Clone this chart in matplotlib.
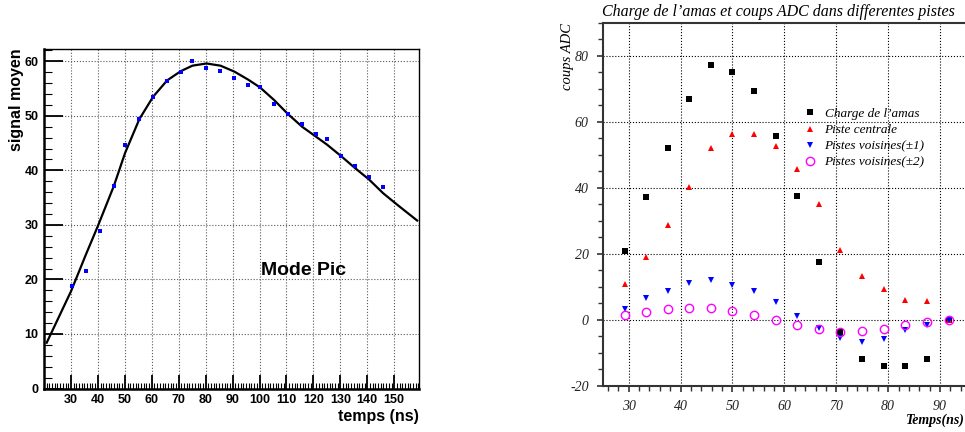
import numpy as np
import matplotlib
matplotlib.use("Agg")
import matplotlib.pyplot as plt
from matplotlib.ticker import MultipleLocator

plt.rcParams["axes.unicode_minus"] = False

# Left panel: mean signal vs time (peak mode)
temps_pts = [30.3, 35.5, 40.6, 45.9, 50.1, 55.4, 60.5, 65.7, 70.8, 75.1, 80.3, 85.5,
             90.7, 95.9, 100.2, 105.4, 110.4, 115.8, 120.9, 125.1, 130.3, 135.5, 140.7, 145.9]
signal_pts = [18.8, 21.6, 28.9, 37.1, 44.7, 49.4, 53.5, 56.4, 58.1, 60.0, 58.7, 58.3,
              56.9, 55.7, 55.2, 52.1, 50.4, 48.5, 46.6, 45.8, 42.6, 40.8, 38.8, 36.9]

# fit curve
fit_t = [21.0, 30.0, 35.5, 40.0, 45.9, 50.1, 55.4, 60.5, 65.7, 70.8, 75.1, 80.3, 85.5,
         90.7, 95.9, 100.2, 105.4, 110.4, 115.8, 120.9, 125.1, 130.3, 135.5, 140.7,
         145.9, 151.1, 158.5]
fit_s = [8.4, 17.8, 24.5, 29.8, 37.1, 43.2, 49.4, 53.5, 56.5, 58.2, 59.2, 59.6, 59.2,
         58.1, 56.6, 55.2, 52.9, 50.4, 48.0, 46.2, 44.7, 42.6, 40.4, 38.3,
         35.8, 33.7, 30.8]

# Right panel: cluster charge and ADC counts in strips
temps_adc = [29.2, 33.3, 37.5, 41.7, 45.8, 50.0, 54.2, 58.3, 62.5, 66.7, 70.8, 75.0,
             79.2, 83.3, 87.5, 91.7]
charge_amas = [20.8, 37.2, 52.0, 67.0, 77.2, 75.1, 69.2, 55.6, 37.5, 17.5, -3.7, -11.8,
               -14.0, -14.0, -11.8, 0.0]
piste_centrale = [10.8, 19.2, 28.7, 40.3, 52.0, 56.2, 56.4, 52.7, 45.7, 35.0, 21.1, 13.2,
                  9.3, 6.0, 5.7, 0.0]
voisines_1 = [3.3, 6.5, 8.8, 11.2, 12.1, 10.6, 8.8, 5.4, 1.2, -2.3, -5.6, -6.6,
              -5.8, -3.1, -1.4, 0.0]
voisines_2 = [1.4, 2.4, 3.2, 3.7, 3.6, 2.6, 1.6, 0.0, -1.6, -2.7, -3.5, -3.3,
              -2.6, -1.4, -0.7, 0.0]

fig = plt.figure(figsize=(9.65, 4.32), dpi=100)

# ---------------- left panel ----------------
sans = "Liberation Sans"
ax1 = fig.add_axes([44 / 965, 1 - 388.5 / 432, (419.3 - 44) / 965, (388.5 - 49.3) / 432])
ax1.plot(fit_t, fit_s, color="black", lw=1.6, zorder=3)
ax1.plot(temps_pts, signal_pts, "s", color="#0000ff", ms=2.4, mew=0, zorder=4)
ax1.set_xlim(20, 159.3)
ax1.set_ylim(0, 62.2)
ax1.xaxis.set_major_locator(MultipleLocator(10))
ax1.xaxis.set_minor_locator(MultipleLocator(1))
ax1.yaxis.set_major_locator(MultipleLocator(10))
ax1.yaxis.set_minor_locator(MultipleLocator(2))
ax1.tick_params(axis="x", which="major", direction="in", length=10, width=1.3, pad=4)
ax1.tick_params(axis="x", which="minor", direction="in", length=4, width=0.8)
ax1.tick_params(axis="y", which="major", direction="in", length=14, width=1.3, pad=4)
ax1.tick_params(axis="y", which="minor", direction="in", length=6, width=0.8)
ax1.set_xticks(np.arange(30, 151, 10))
for lab in ax1.get_xticklabels() + ax1.get_yticklabels():
    lab.set_fontfamily(sans)
    lab.set_fontweight("bold")
    lab.set_fontsize(9)
ax1.grid(True, which="major", color="0.35", ls=":", lw=0.8)
ax1.spines["left"].set_linewidth(1.8)
ax1.spines["bottom"].set_linewidth(1.8)
ax1.spines["top"].set_linewidth(1.0)
ax1.spines["right"].set_linewidth(1.0)
ax1.text(100.7, 21.7, "Mode Pic", fontfamily=sans, fontweight="bold", fontsize=14,
         va="center", ha="left")
fig.text(16.5 / 965, 1 - 48 / 432, "signal moyen", rotation=90, ha="center", va="top",
         fontfamily=sans, fontweight="bold", fontsize=11.5)
fig.text(419 / 965, 1 - 417 / 432, "temps (ns)", ha="right", va="center",
         fontfamily=sans, fontweight="bold", fontsize=11.5)

# ---------------- right panel ----------------
serif = "Liberation Serif"
ax2 = fig.add_axes([602.7 / 965, 1 - 386 / 432, (965 - 602.7) / 965, (386 - 22.7) / 432])
ax2.plot(temps_adc, charge_amas, "s", color="black", ms=5.0, mew=0, label="Charge de l\u2019amas")
ax2.plot(temps_adc, piste_centrale, "^", color="#ff0000", ms=5.0, mew=0, label="Piste centrale")
ax2.plot(temps_adc, voisines_1, "v", color="#0000ff", ms=5.0, mew=0, label="Pistes voisines(\u00b11)")
ax2.plot(temps_adc, voisines_2, "o", mfc="none", mec="#ff00ff", ms=6, mew=1.0,
         label="Pistes voisines(\u00b12)")
ax2.set_xlim(25, 94.8)
ax2.set_ylim(-20, 90)
ax2.xaxis.set_major_locator(MultipleLocator(10))
ax2.xaxis.set_minor_locator(MultipleLocator(2))
ax2.yaxis.set_major_locator(MultipleLocator(20))
ax2.yaxis.set_minor_locator(MultipleLocator(5))
ax2.set_xticks(np.arange(30, 91, 10))
ax2.tick_params(which="major", direction="out", length=4, width=1.2, color="#333333")
ax2.tick_params(which="minor", direction="out", length=3.5, width=1.0, color="#333333")
ax2.tick_params(axis="x", which="major", pad=6)
ax2.tick_params(axis="y", which="major", pad=6)
for lab in ax2.get_xticklabels() + ax2.get_yticklabels():
    lab.set_fontfamily(serif)
    lab.set_fontstyle("italic")
    lab.set_fontsize(10)
    lab.set_color("#222222")
ax2.grid(True, which="major", color="black", ls=":", lw=0.8)
for side in ["left", "bottom", "top"]:
    ax2.spines[side].set_linewidth(1.5)
    ax2.spines[side].set_color("#333333")
ax2.spines["right"].set_visible(False)
ax2.legend(loc="upper left", bbox_to_anchor=(0.554, 0.766), frameon=False,
           prop={"family": serif, "style": "italic", "size": 9.5},
           handlelength=1.0, handletextpad=0.6, borderpad=0, borderaxespad=0,
           labelspacing=0.3)
fig.text(778 / 965, 1 - 12 / 432, "Charge de l\u2019amas et coups ADC dans differentes pistes",
         ha="center", va="center", fontfamily=serif, fontstyle="italic", fontsize=11.5)
fig.text(568 / 965, 1 - 22.7 / 432, "coups ADC", rotation=90, ha="center", va="top",
         fontfamily=serif, fontstyle="italic", fontsize=10.5)
fig.text(965 / 965, 1 - 420 / 432, "Temps(ns)", ha="right", va="center",
         fontfamily=serif, fontstyle="italic", fontweight="bold", fontsize=10)

fig.savefig("out.png", dpi=100)
